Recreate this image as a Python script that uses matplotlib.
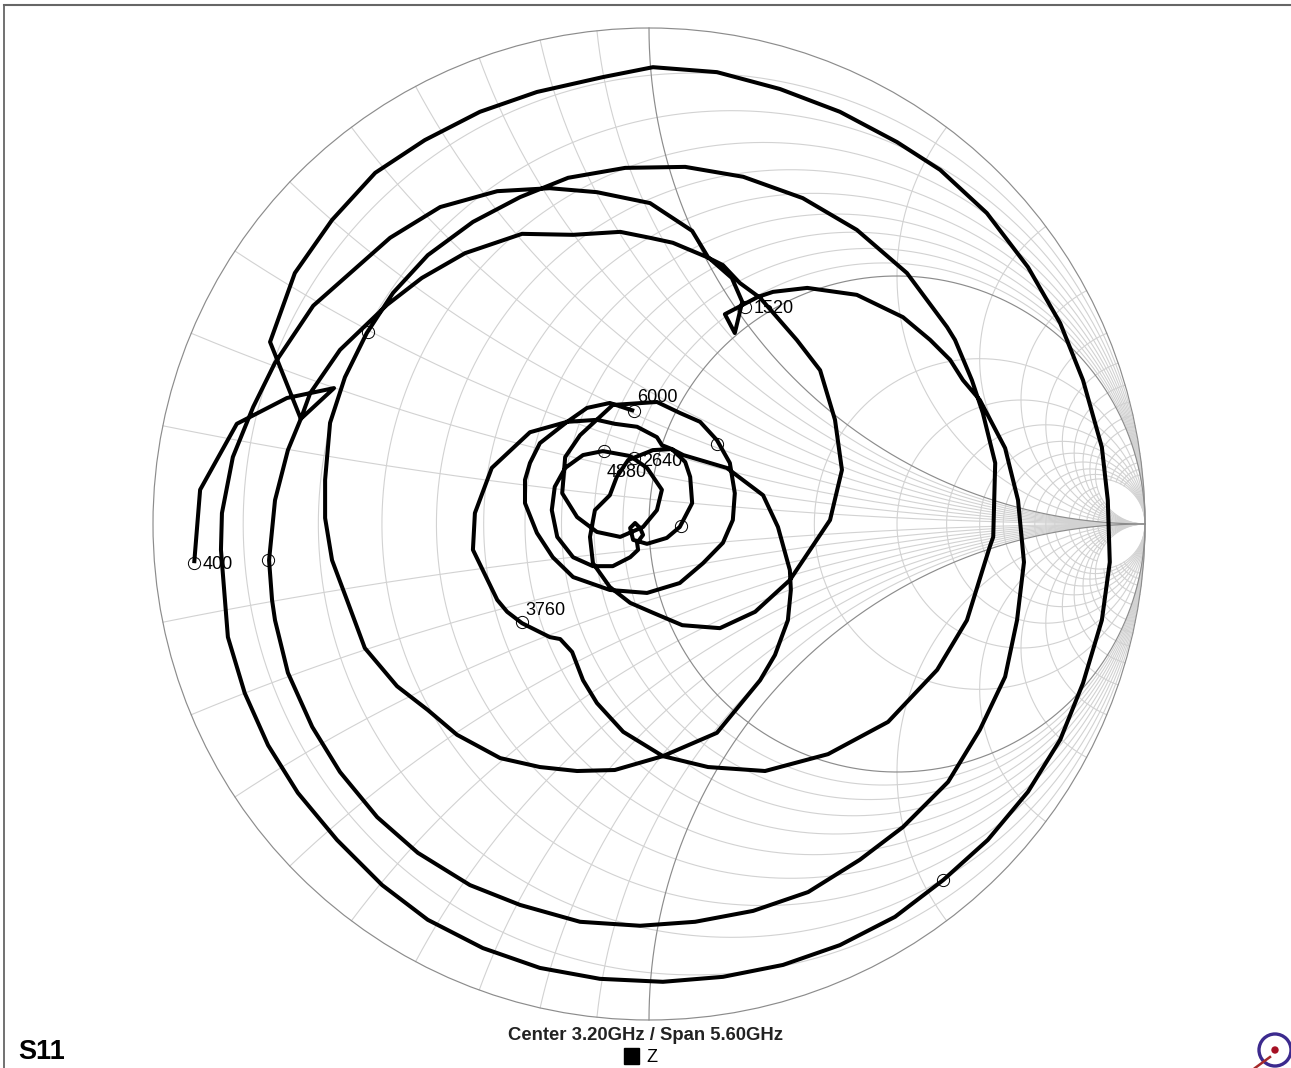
import numpy as np
import matplotlib
matplotlib.use("Agg")
import matplotlib.pyplot as plt
from matplotlib.lines import Line2D
from matplotlib.patches import Circle, Rectangle

WIDTH = 1291
HEIGHT = 1068
CENTER_X = 649
CENTER_Y = 524
RADIUS = 496

LIGHT_GRID = "#d2d2d2"
DARK_GRID = "#8c8c8c"

# Grid values of the chart
r_full = [0.1, 0.2, 0.3, 0.4, 0.5, 0.6, 0.7, 0.8, 0.9, 2, 3, 4, 5, 6, 7, 8, 9, 10]
r_short = [12, 14, 16, 18, 20]
x_full = [0.1, 0.2, 0.3, 0.4, 0.5, 0.6, 0.7, 0.8, 0.9, 2, 3, 4, 5, 6, 7, 8, 9, 10]
x_short = [12, 14, 16, 18, 20]

# S11 trace, real and imaginary part of the reflection coefficient
trace_re = [
    -.917, -.905, -.831, -.730, -.635, -.702, -.764, -.714, -.639, -.552, -.452, -.341, -.226, -.093,
    .008, .137, .264, .385, .500, .587, .681, .764, .829, .875, .913, .925, .929, .913, .875, .829,
    .764, .683, .593, .496, .385, .270, .149, .028, -.099, -.220, -.335, -.446, -.538, -.629, -.708,
    -.768, -.815, -.849, -.855, -.863, -.861, -.839, -.798, -.754, -.677, -.522, -.421, -.306, -.200,
    -.105, .002, .087, .119, .167, .188, .173, .153, .220, .250, .319, .419, .512, .567, .607, .633,
    .667, .718, .744, .756, .742, .718, .667, .603, .512, .425, .321, .210, .093, -.018, -.139, -.260,
    -.361, -.466, -.548, -.623, -.679, -.728, -.754, -.760, -.766, -.754, -.728, -.702, -.683, -.623,
    -.528, -.458, -.371, -.256, -.153, -.058, .002, .048, .117, .149, .183, .224, .298, .345, .375,
    .389, .365, .284, .214, .143, .067, .008, -.038, -.079, -.113, -.119, -.109, -.079, -.065, -.042,
    .008, .046, .026, .016, -.024, -.069, -.105, -.165, -.240, -.317, -.351, -.355, -.306, -.286,
    -.256, -.200, -.179, -.155, -.133, -.105, -.052, .028, .119, .234, .361, .482, .581, .641, .687,
    .694, .698, .673, .651, .617, .601, .520, .419, .310, .190, .073, -.048, -.163, -.260, -.355,
    -.446, -.516, -.569, -.613, -.643, -.653, -.653, -.639, -.609, -.573, -.508, -.446, -.387, -.300,
    -.220, -.145, -.069, .028, .137, .224, .254, .280, .286, .284, .260, .230, .157, .069, .046, .073,
    .083, .087, .062, .036, -.004, -.032, -.038, -.028, -.018, -.012, -.024, -.022, -.038, -.073,
    -.113, -.153, -.185, -.196, -.190, -.169, -.133, -.093, -.038, -.004, .026, .016, -.012, -.058,
    -.105, -.145, -.175, -.169, -.139, -.073, .016, .062, .103, .137, .163, .173, .169, .149, .109,
    .062, -.004, -.079, -.153, -.194, -.226, -.250, -.250, -.240, -.220, -.165, -.125, -.079, -.030,
]
trace_im = [
    -.079, .069, .202, .254, .274, .212, .367, .506, .613, .708, .774, .831, .871, .901,
    .921, .911, .877, .831, .770, .714, .627, .518, .405, .290, .155, .048, -.077, -.194, -.321, -.435,
    -.540, -.637, -.718, -.792, -.849, -.889, -.913, -.923, -.917, -.895, -.855, -.798, -.728, -.637, -.542,
    -.446, -.341, -.228, -.153, -.052, .022, .135, .236, .325, .440, .577, .639, .671, .677,
    .669, .647, .591, .538, .496, .448, .385, .423, .458, .468, .476, .462, .417, .371, .331, .290,
    .250, .153, .048, -.077, -.194, -.308, -.415, -.520, -.611, -.677, -.742, -.780, -.802, -.810, -.802, -.768,
    -.728, -.663, -.591, -.500, -.409, -.300, -.194, -.153, -.073, .048, .149, .212, .264, .351,
    .442, .496, .546, .585, .583, .589, .577, .567, .538, .522, .486, .456, .371, .310, .210,
    .109, .008, -.113, -.177, -.210, -.204, -.179, -.159, -.127, -.079, -.026, .028, .058, .095, .129,
    .149, .151, .159, .175, .196, .202, .210, .206, .185, .113, .022, -.052, -.153, -.177,
    -.200, -.228, -.232, -.258, -.315, -.361, -.419, -.468, -.490, -.498, -.464, -.399, -.294, -.194, -.046,
    -.026, .123, .224, .290, .371, .397, .506, .593, .657, .700, .720, .718, .698, .659, .609,
    .542, .466, .385, .296, .204, .089, .012, -.073, -.153, -.250, -.327, -.375, -.425, -.472,
    -.490, -.498, -.496, -.468, -.421, -.315, -.264, -.194, -.133, -.093, -.006, .058, .113, .139, .151, .125,
    .095, .042, -.006, -.028, -.040, -.032, -.008, .002, -.008, -.022, -.038, -.052, -.067, -.085,
    -.085, -.067, -.026, .028, .075, .113, .139, .147, .137, .113, .069, .028, -.006, -.026,
    -.016, .014, .062, .135, .179, .240, .246, .224, .206, .169, .123, .062, .008, -.038, -.079,
    -.119, -.139, -.133, -.107, -.067, -.018, .042, .089, .123, .163, .206, .234, .244, .228,
]

# Frequency markers (MHz where the chart prints one)
marker_re = [-.917, .593, .194, -.768, -.030, .065, -.256, -.567, -.091, .137, -.030]
marker_im = [-.079, -.718, .437, -.073, .133, -.004, -.198, .387, .147, .161, .228]
marker_labels = ["400", "", "1520", "", "2640", "", "3760", "", "4880", "", "6000"]
label_offsets = [(8, -1), None, (8, -1), None, (8, -3), None, (3, 12), None, (3, -21), None, (3, 13)]

TITLE = "S11"
FOOTER = "Center 3.20GHz / Span 5.60GHz"
LEGEND = "Z"


def gamma(r, x):
    """Reflection coefficient of the normalized impedance r + jx."""
    z = r + 1j * x
    return (z - 1) / (z + 1)


def px(x, y):
    """Pixel position in the picture to figure fraction."""
    return x / WIDTH, 1 - y / HEIGHT


def draw_r_circle(ax, r, x_limit=None, color=LIGHT_GRID, lw=0.8):
    t_max = np.pi / 2 - 1e-4 if x_limit is None else np.arctan(x_limit)
    x = np.tan(np.linspace(-t_max, t_max, 800))
    g = gamma(r, x)
    ax.plot(g.real, g.imag, color=color, lw=lw, zorder=2)


def draw_x_arc(ax, x, r_limit=None, color=LIGHT_GRID, lw=0.8):
    t_max = np.pi / 2 - 1e-4 if r_limit is None else np.arctan(r_limit)
    r = np.tan(np.linspace(0, t_max, 600))
    for sign in (1, -1):
        g = gamma(r, sign * x)
        ax.plot(g.real, g.imag, color=color, lw=lw, zorder=2)


def draw_grid(ax):
    for r in r_full:
        draw_r_circle(ax, r)
    for r in r_short:
        draw_r_circle(ax, r, x_limit=10)
    for x in x_full:
        draw_x_arc(ax, x)
    for x in x_short:
        draw_x_arc(ax, x, r_limit=10)

    # the unit lines and the rim are darker
    draw_r_circle(ax, 1, color=DARK_GRID, lw=0.85)
    draw_x_arc(ax, 1, color=DARK_GRID, lw=0.85)
    ax.add_patch(Circle((0, 0), 1, fill=False, ec=DARK_GRID, lw=0.85, zorder=3))


def draw_trace(ax):
    ax.plot(trace_re, trace_im, color="black", lw=2.9, solid_joinstyle="round",
            solid_capstyle="butt", zorder=4)
    ax.plot(marker_re, marker_im, ls="none", marker="o", ms=8.8, mfc="none", mec="black",
            mew=0.7, zorder=5)
    for re, im, label, offset in zip(marker_re, marker_im, marker_labels, label_offsets):
        if label:
            ax.annotate(label, (re, im), xytext=offset, textcoords="offset pixels", ha="left",
                        va="center", fontsize=13, color="black", zorder=6)


def draw_page(fig):
    # only top and left of the frame are there
    fig.add_artist(Line2D([0.003, 1], [px(0, 5)[1]] * 2, color="#666666", lw=1.5))
    fig.add_artist(Line2D([px(4, 0)[0]] * 2, [0, px(0, 5)[1]], color="#666666", lw=1.3))

    fig.text(*px(18, 1052), TITLE, fontsize=19.5, fontweight="bold", ha="left", va="center")
    fig.text(*px(645, 1035), FOOTER, fontsize=13.3, fontweight="bold", ha="center", va="center",
             color="#222222")
    fig.text(*px(646, 1058), LEGEND, fontsize=13, ha="left", va="center")

    x0, y0 = px(624, 1064)
    fig.add_artist(Rectangle((x0, y0), 15 / WIDTH, 16 / HEIGHT, color="black",
                             transform=fig.transFigure))


def draw_logo(ax):
    cx = (1275 - CENTER_X) / RADIUS
    cy = (CENTER_Y - 1050) / RADIUS
    ax.add_patch(Circle((cx, cy), 16 / RADIUS, fill=False, ec="#3c2a8e", lw=2.4, zorder=3))
    ax.add_patch(Circle((cx, cy), 3 / RADIUS, color="#a50f23", zorder=3))
    ax.plot([cx - 5 / RADIUS, cx - 20 / RADIUS], [cy - 7 / RADIUS, cy - 18 / RADIUS],
            color="#a52a2a", lw=1.8, zorder=3)


def main():
    plt.rcParams["font.family"] = ["Liberation Sans", "DejaVu Sans"]

    fig = plt.figure(figsize=(WIDTH / 100, HEIGHT / 100), dpi=100)
    ax = fig.add_axes([0, 0, 1, 1])
    ax.set_xlim(-CENTER_X / RADIUS, (WIDTH - CENTER_X) / RADIUS)
    ax.set_ylim((CENTER_Y - HEIGHT) / RADIUS, CENTER_Y / RADIUS)
    ax.axis("off")

    draw_grid(ax)
    draw_trace(ax)
    draw_logo(ax)
    draw_page(fig)

    fig.savefig("out.png", dpi=100)


if __name__ == "__main__":
    main()
